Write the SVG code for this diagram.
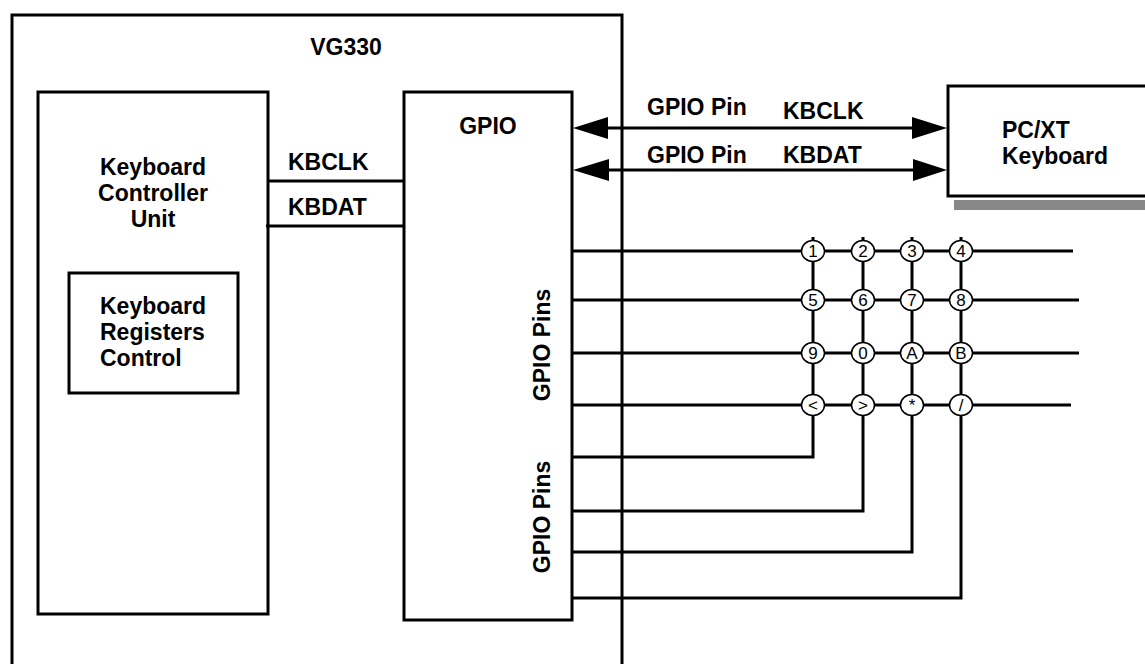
<svg xmlns="http://www.w3.org/2000/svg" width="1145" height="664" viewBox="0 0 1145 664">
<style>
.box{fill:#fff;stroke:#000;stroke-width:3}
.ln{fill:none;stroke:#000;stroke-width:3}
.ah{fill:#000;stroke:none}
.t{font-family:"Liberation Sans",Arial,sans-serif;font-weight:bold;font-size:23px;fill:#000}
.k{fill:#fff;stroke:#000;stroke-width:1.5}
.kt{font-family:"Liberation Sans",Arial,sans-serif;font-size:17px;fill:#000;text-anchor:middle}
</style>
<rect width="1145" height="664" fill="#fff"/>
<g id="vg330">
<path class="ln" d="M12,666 V15 H622 V666"/>
<text class="t" x="346" y="55" text-anchor="middle">VG330</text>
</g>
<g id="kcu">
<rect class="box" x="38" y="92" width="230" height="522"/>
<text class="t" x="153" y="175" text-anchor="middle">Keyboard</text>
<text class="t" x="153" y="201" text-anchor="middle">Controller</text>
<text class="t" x="153" y="227" text-anchor="middle">Unit</text>
</g>
<g id="regs">
<rect class="box" x="69" y="273" width="169" height="120"/>
<text class="t" x="100" y="314">Keyboard</text>
<text class="t" x="100" y="340">Registers</text>
<text class="t" x="100" y="366">Control</text>
</g>
<g id="gpio">
<rect class="box" x="404" y="92" width="168" height="528"/>
<text class="t" x="488" y="134" text-anchor="middle">GPIO</text>
<text class="t" transform="translate(550,345) rotate(-90)" text-anchor="middle">GPIO Pins</text>
<text class="t" transform="translate(550,517) rotate(-90)" text-anchor="middle">GPIO Pins</text>
</g>
<g id="pcxt">
<rect x="954" y="200" width="195" height="10" fill="#888"/>
<rect class="box" x="948" y="86" width="200" height="110"/>
<text class="t" x="1002" y="138">PC/XT</text>
<text class="t" x="1002" y="164">Keyboard</text>
</g>
<g id="connectors">
<line class="ln" x1="268" y1="181" x2="404" y2="181"/>
<line class="ln" x1="266" y1="226" x2="404" y2="226"/>
<line class="ln" x1="590" y1="128" x2="930" y2="128"/>
<polygon class="ah" points="573,128 608,117 608,139"/>
<polygon class="ah" points="947,128 912,117 912,139"/>
<line class="ln" x1="590" y1="170" x2="930" y2="170"/>
<polygon class="ah" points="573,170 609,159 609,181"/>
<polygon class="ah" points="947,170 913,159 913,181"/>
<line class="ln" x1="572" y1="251" x2="1073" y2="251"/>
<line class="ln" x1="572" y1="300" x2="1079" y2="300"/>
<line class="ln" x1="572" y1="353" x2="1079" y2="353"/>
<line class="ln" x1="572" y1="405" x2="1071" y2="405"/>
<path class="ln" d="M813,237 V457 H572"/>
<path class="ln" d="M863,237 V511 H572"/>
<path class="ln" d="M912,237 V552 H572"/>
<path class="ln" d="M961,237 V598 H572"/>
</g>
<g id="text-labels">
<text class="t" x="647" y="115">GPIO Pin</text>
<text class="t" x="783" y="119">KBCLK</text>
<text class="t" x="647" y="163">GPIO Pin</text>
<text class="t" x="783" y="163">KBDAT</text>
<text class="t" x="288" y="170">KBCLK</text>
<text class="t" x="288" y="215">KBDAT</text>
</g>
<g id="keys">
<g id="k1"><ellipse class="k" cx="813" cy="251" rx="11.5" ry="10.5"/><text class="kt" x="813" y="257">1</text></g>
<g id="k2"><ellipse class="k" cx="863" cy="251" rx="11.5" ry="10.5"/><text class="kt" x="863" y="257">2</text></g>
<g id="k3"><ellipse class="k" cx="912" cy="251" rx="11.5" ry="10.5"/><text class="kt" x="912" y="257">3</text></g>
<g id="k4"><ellipse class="k" cx="961" cy="251" rx="11.5" ry="10.5"/><text class="kt" x="961" y="257">4</text></g>
<g id="k5"><ellipse class="k" cx="813" cy="300" rx="11.5" ry="10.5"/><text class="kt" x="813" y="306">5</text></g>
<g id="k6"><ellipse class="k" cx="863" cy="300" rx="11.5" ry="10.5"/><text class="kt" x="863" y="306">6</text></g>
<g id="k7"><ellipse class="k" cx="912" cy="300" rx="11.5" ry="10.5"/><text class="kt" x="912" y="306">7</text></g>
<g id="k8"><ellipse class="k" cx="961" cy="300" rx="11.5" ry="10.5"/><text class="kt" x="961" y="306">8</text></g>
<g id="k9"><ellipse class="k" cx="813" cy="353" rx="11.5" ry="10.5"/><text class="kt" x="813" y="359">9</text></g>
<g id="k0"><ellipse class="k" cx="863" cy="353" rx="11.5" ry="10.5"/><text class="kt" x="863" y="359">0</text></g>
<g id="kA"><ellipse class="k" cx="912" cy="353" rx="11.5" ry="10.5"/><text class="kt" x="912" y="359">A</text></g>
<g id="kB"><ellipse class="k" cx="961" cy="353" rx="11.5" ry="10.5"/><text class="kt" x="961" y="359">B</text></g>
<g id="klt"><ellipse class="k" cx="813" cy="405" rx="11.5" ry="10.5"/><text class="kt" x="813" y="411">&lt;</text></g>
<g id="kgt"><ellipse class="k" cx="863" cy="405" rx="11.5" ry="10.5"/><text class="kt" x="863" y="411">&gt;</text></g>
<g id="kstar"><ellipse class="k" cx="912" cy="405" rx="11.5" ry="10.5"/><text class="kt" x="912" y="411">*</text></g>
<g id="kslash"><ellipse class="k" cx="961" cy="405" rx="11.5" ry="10.5"/><text class="kt" x="961" y="411">/</text></g>
</g>
</svg>
